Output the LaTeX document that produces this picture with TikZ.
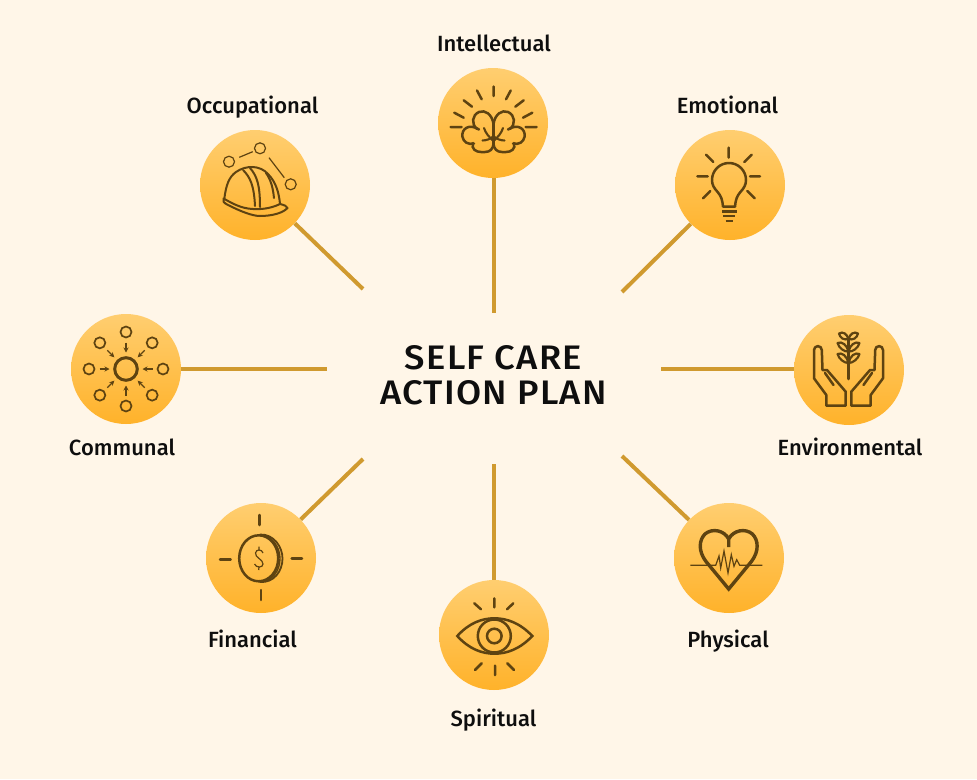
\documentclass[tikz,border=0pt]{standalone}
\usepackage{fontspec}
\setmainfont{Fira Sans Medium}
\usetikzlibrary{arrows.meta}
\definecolor{bgcream}{HTML}{FFF6E8}
\definecolor{conn}{HTML}{D09A2F}
\definecolor{icon}{HTML}{5E4311}
\definecolor{ctop}{HTML}{FFCE70}
\definecolor{cbot}{HTML}{FFB22A}
\definecolor{txt}{HTML}{0E0E0E}
\newcommand{\brainHalf}{%
  \draw[ico] (55.5,56) .. controls (54,46) and (47,41.5) .. (41,44) .. controls (34,47) and (33,56) .. (39,61);
  \draw[ico] (41,61.5) .. controls (31,55) and (23,61) .. (24.5,69) .. controls (25.5,74) and (30,77) .. (36,75.5);
  \draw[ico] (35,75) .. controls (33,81) and (38,84) .. (43,84) -- (47,84) .. controls (52,84) and (55,81) .. (55.5,76);
  \draw[ico,line width=2.1pt] (46,60) .. controls (47.5,65) and (51,69) .. (55.5,73);
  \draw[ico,line width=2.1pt] (44.5,72.5) .. controls (48,72.5) and (53,71) .. (55.5,68);
}
\newcommand{\handHalf}{%
  \draw[ico,line join=round] (32.3,90.7) -- (32.3,80) -- (20,63.3) -- (20,35) arc[start angle=180,end angle=360,radius=3.9] -- (28.5,55) -- (33,55) -- (51.7,76.7) -- (51.7,90.7) -- cycle;
  \draw[ico] (31,58) -- (39.5,70);
  \draw[ico,line width=2.2pt] (45,18.5) .. controls (49,16) and (53,19) .. (54.5,24) .. controls (50,25.5) and (46,23) .. (45,18.5);
  \draw[ico,line width=2.2pt] (43.5,28) .. controls (48,26) and (53,30) .. (54.5,36.5) .. controls (50,37) and (45,33) .. (43.5,28);
  \draw[ico,line width=2.2pt] (43.5,39) .. controls (48,37) and (53,41) .. (54.5,48) .. controls (50,48) and (45,44) .. (43.5,39);
}
\tikzset{
  disc/.style={circle,minimum size=110pt,inner sep=0pt,top color=ctop,bottom color=cbot,draw=none},
  link/.style={draw=conn,line width=4pt},
  ico/.style={draw=icon,line width=2.5pt,line cap=round},
  icothin/.style={draw=icon,line width=1.2pt},
  lab/.style={font=\fontsize{22}{26}\selectfont,text=txt,inner sep=0pt,anchor=base},
  ttl/.style={font=\fontsize{34}{34}\selectfont\addfontfeature{LetterSpace=3.5},text=txt,inner sep=0pt,anchor=base,xscale=1.07},
}
\begin{document}
\begin{tikzpicture}[x=1pt,y=-1pt]
\path[use as bounding box,fill=bgcream] (0,0) rectangle (977,779);
% free ends
\coordinate (eocc) at (363,289);
\coordinate (eint) at (493.5,313);
\coordinate (eemo) at (622,292);
\coordinate (eenv) at (661,369);
\coordinate (ephy) at (622,456);
\coordinate (espi) at (493.5,464);
\coordinate (efin) at (363,459);
\coordinate (ecom) at (327,369);
% discs
\node[disc] (occ) at (255,185) {};
\node[disc] (int) at (493,123) {};
\node[disc] (emo) at (730,185) {};
\node[disc] (env) at (849,370) {};
\node[disc] (phy) at (729,558) {};
\node[disc] (spi) at (494,635) {};
\node[disc] (fin) at (261,558) {};
\node[disc] (com) at (126,369) {};
% connectors
\draw[link] (occ) -- (eocc);
\draw[link] (int.south -| eint) -- (eint);
\draw[link] (emo) -- (eemo);
\draw[link] (env.west |- eenv) -- (eenv);
\draw[link] (phy) -- (ephy);
\draw[link] (spi.north -| espi) -- (espi);
\draw[link] (fin) -- (efin);
\draw[link] (com.east |- ecom) -- (ecom);
% labels
\node[lab] (locc) at (252.5,113) {Occupational};
\node[lab] (lint) at (494,51) {Intellectual};
\node[lab] (lemo) at (727.5,113) {Emotional};
\node[lab] (lenv) at (850,455) {Environmental};
\node[lab] (lphy) at (728,647) {Physical};
\node[lab] (lspi) at (493.5,726) {Spiritual};
\node[lab] (lfin) at (252.5,647) {Financial};
\node[lab] (lcom) at (122,455) {Communal};
\node[ttl] (title1) at (493.5,369.5) {SELF CARE};
\node[ttl] (title2) at (493.5,404) {ACTION PLAN};
% Occupational icon
\begin{scope}[shift={(200,130)}]
  \draw[icothin] (29,31.7) circle[radius=5.5] (60,18.3) circle[radius=5.5] (90.7,54.3) circle[radius=5.5];
  \draw[icothin] (39.3,27.3) -- (52.7,21.7) (69,27.7) -- (84.3,47.7);
  \draw[ico,line width=2pt] (24.3,69) .. controls (26,55) and (29,47) .. (36,42) .. controls (46,35) and (60,35) .. (68,44) .. controls (76,52) and (79,63) .. (80,74);
  \draw[ico,line width=2pt,line join=round] (23.5,68.5) .. controls (22,71) and (24,73) .. (28,75) .. controls (40,81) and (52,86) .. (60,86) .. controls (72,86) and (83,83) .. (87.5,78) .. controls (87,76) and (84,75) .. (80,74) .. controls (70,79) and (58,80) .. (48,78.5) .. controls (38,77) and (30,72) .. (23.5,68.5);
  \draw[ico,line width=2pt] (43,40) .. controls (50,47) and (54,55) .. (55,76) (50,38) .. controls (57,46) and (60,55) .. (60,77) (66,43) .. controls (71,50) and (73,58) .. (74,68);
\end{scope}
% Intellectual icon
\begin{scope}[shift={(438,68)}]
  \draw[ico] (55.7,18.5) -- (55.7,28) (39,22.5) -- (43.7,31.3) (25.7,32.3) -- (34,38.7) (16.3,44.7) -- (25.7,49.7) (12.7,59) -- (23.7,59)
             (72.7,22.5) -- (68,31.3) (85.7,32.3) -- (77.3,38.7) (94.3,44.7) -- (85,49.7) (98.7,59) -- (87.7,59);
  \brainHalf
  \begin{scope}[shift={(111,0)},xscale=-1]\brainHalf\end{scope}
  \draw[ico,line width=2.1pt] (55.5,56) -- (55.5,78);
\end{scope}
% Emotional icon
\begin{scope}[shift={(675,130)}]
  \draw[ico] (53.7,17.7) -- (53.7,27.7) (31,24.7) -- (38.3,32) (76.7,24.7) -- (69.3,32) (22.3,46.3) -- (32.7,46.3) (75,46.3) -- (85,46.3) (35.3,61) -- (28,68.3) (72.3,61) -- (79.7,68.3);
  \draw[ico,line join=round] (48,76.7) -- (60,76.7) .. controls (60.5,70) and (62,66) .. (65,62.5) .. controls (69,58) and (71,55) .. (71,50) arc[start angle=0,end angle=-180,radius=17] .. controls (37,55) and (39,58) .. (43,62.5) .. controls (46,66) and (47.5,70) .. (48,76.7);
  \draw[ico,line cap=butt] (47,81.7) -- (61.7,81.7) (48.3,86) -- (60.3,86) (50.7,91) -- (57.7,91);
\end{scope}
% Environmental icon
\begin{scope}[shift={(794,315)}]
  \handHalf
  \begin{scope}[shift={(109,0)},xscale=-1]\handHalf\end{scope}
  \draw[ico] (54.5,24) -- (54.5,64);
\end{scope}
% Physical icon
\begin{scope}[shift={(674,503)}]
  \draw[icothin] (16.3,62.3) -- (41.7,62.3) -- (45,53) -- (46.7,65) -- (50,48) -- (54,70) -- (57.3,51.7) -- (60,63.3) -- (62.7,56.7) -- (65.7,62.3) -- (88.3,62.3);
  \draw[ico,line width=3.4pt,line cap=butt,line join=miter] (54.7,44) -- (54.7,36) .. controls (50,27) and (38,25) .. (31,31) .. controls (25,37) and (24,48) .. (32,58.5) -- (54.7,86) -- (77.4,58.5) .. controls (85.4,48) and (84.4,37) .. (78.4,31) .. controls (71.4,25) and (59.4,27) .. (54.7,36);
\end{scope}
% Spiritual icon
\begin{scope}[shift={(439,580)}]
  \draw[ico,line join=miter] (18.3,56) .. controls (30,43) and (43,38.3) .. (55.3,38.3) .. controls (68,38.3) and (81,43) .. (93.3,56) .. controls (81,69) and (68,73.7) .. (55.3,73.7) .. controls (43,73.7) and (30,69) .. (18.3,56) -- cycle;
  \draw[ico] (55.3,56) circle[radius=16.5] (55.3,56) circle[radius=7.3];
  \draw[ico] (55.3,18.3) -- (55.3,27.3) (35.3,23.3) -- (42,29.3) (74.3,23.3) -- (68,29.3) (56,85.7) -- (56,95) (42.7,83.3) -- (36,90) (68.3,83.3) -- (75,90);
\end{scope}
% Financial icon
\begin{scope}[shift={(206,503)}]
  \draw[ico] (53.3,12) -- (53.3,22) (55,87) -- (55,97) (14,56.3) -- (24.7,56.3) (85.7,55.3) -- (96,55.3);
  \draw[ico] (52.7,55.3) ellipse[x radius=19.5,y radius=23];
  \draw[ico,line width=1.8pt] (54,31.5) .. controls (68,31) and (76.5,44) .. (76.5,55.5) .. controls (76.5,68) and (68,80) .. (54,79);
  \draw[ico,line width=1.4pt] (56,32) .. controls (66,33) and (74,44) .. (74,55.5) .. controls (74,68) and (66,78) .. (56,78.5);
  \draw[icothin] (57,50) .. controls (56,46) and (50,46) .. (49.5,50) .. controls (49,55) and (57,56) .. (57,61) .. controls (57,65) and (50,65) .. (48.5,61) (53,43.7) -- (53,47) (53,63.8) -- (52.7,67);
\end{scope}
% Communal icon
\begin{scope}[shift={(71,314)}]
  \draw[ico,line width=3pt] (55,55) circle[radius=11.3];
  \foreach \a in {0,45,...,315} {
    \draw[ico,line width=1.7pt] ({55+37*cos(\a)},{55+37*sin(\a)}) circle[radius=5.5];
    \draw[icon,line width=1.4pt,-{Stealth[length=5pt,width=5pt]}] ({55+26.5*cos(\a)},{55+26.5*sin(\a)}) -- ({55+16.5*cos(\a)},{55+16.5*sin(\a)});
  }
\end{scope}
\end{tikzpicture}
\end{document}
